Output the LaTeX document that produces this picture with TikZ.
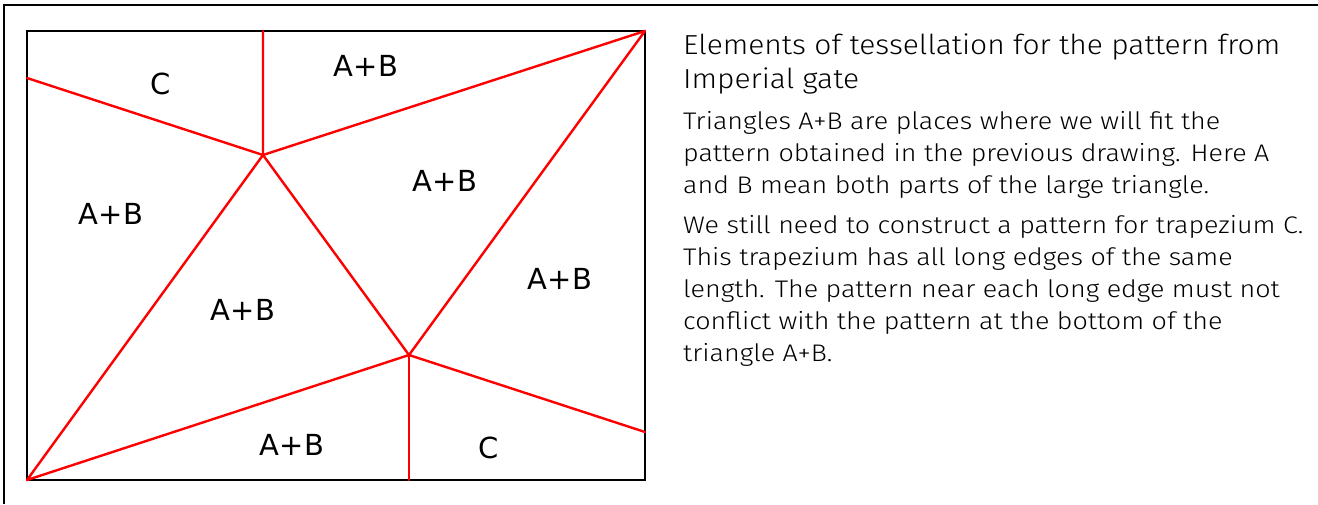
\documentclass[tikz,border=0pt]{standalone}
\usepackage{fontspec}
\setmainfont{DejaVu Sans}
\newfontfamily\headfont{Fira Sans Light}[FakeStretch=1.09]
\newfontfamily\notefont{Fira Sans Light}[FakeStretch=1.12]
\usetikzlibrary{positioning}
\tikzset{
  frameline/.style={draw=black, line width=2.2pt},
  tessline/.style={draw=red, line width=2.4pt, line cap=round, line join=round},
  piece/.style={font=\fontsize{29}{29}\selectfont, inner sep=0pt},
  heading/.style={font=\headfont\fontsize{27.5}{34.3}\selectfont, align=left, anchor=base west, inner sep=0pt},
  notetext/.style={font=\notefont\fontsize{24}{32.1}\selectfont, align=left, anchor=base west, inner sep=0pt}
}

\begin{document}
\begin{tikzpicture}[x=1pt, y=-1pt]
  \useasboundingbox (0,0) rectangle (1318,504);
  % outer frame, cut off by the page
  \coordinate (frameTR) at (1318,5);
  \coordinate (frameTL) at (4,5);
  \coordinate (frameBL) at (4,504);
  \draw[frameline] (frameTR) -- (frameTL) -- (frameBL);

  % field corners and edge points
  \coordinate (nw) at (27,31);
  \coordinate (ne) at (645,31);
  \coordinate (se) at (645,480);
  \coordinate (sw) at (27,480);
  \coordinate (leftpt) at (27,78);
  \coordinate (toppt) at (263,31);
  \coordinate (rightpt) at (645,432);
  \coordinate (botpt) at (409,480);
  % inner vertices
  \coordinate (upper) at (263,155);
  \coordinate (lower) at (409,355);

  \draw[frameline] (nw) rectangle (se);
  \draw[tessline] (leftpt) -- (upper) -- (toppt);
  \draw[tessline] (upper) -- (ne) -- (lower);
  \draw[tessline] (upper) -- (sw) -- (lower);
  \draw[tessline] (upper) -- (lower);
  \draw[tessline] (lower) -- (botpt);
  \draw[tessline] (lower) -- (rightpt);

  % pieces
  \node[piece] (cTop) at (161,84) {C};
  \node[piece] (abTop) at (366,66) {A+B};
  \node[piece] (abMid) at (445,181) {A+B};
  \node[piece] (abLeft) at (111,214) {A+B};
  \node[piece] (abCentre) at (243,310) {A+B};
  \node[piece] (abRight) at (560,279) {A+B};
  \node[piece] (abBottom) at (292,445) {A+B};
  \node[piece] (cBottom) at (489,448) {C};

  % explanation (anchored at the baseline of the last line)
  \node[heading] (title) at (683,88.3) {Elements of tessellation for the pattern from\\Imperial gate};
  \node[notetext] (para1) at (683,193.3) {Triangles A+B are places where we will fit the\\pattern obtained in the previous drawing. Here A\\and B mean both parts of the large triangle.};
  \node[notetext] (para2) at (683,361.5) {We still need to construct a pattern for trapezium C.\\This trapezium has all long edges of the same\\length. The pattern near each long edge must not\\conflict with the pattern at the bottom of the\\triangle A+B.};
\end{tikzpicture}
\end{document}
